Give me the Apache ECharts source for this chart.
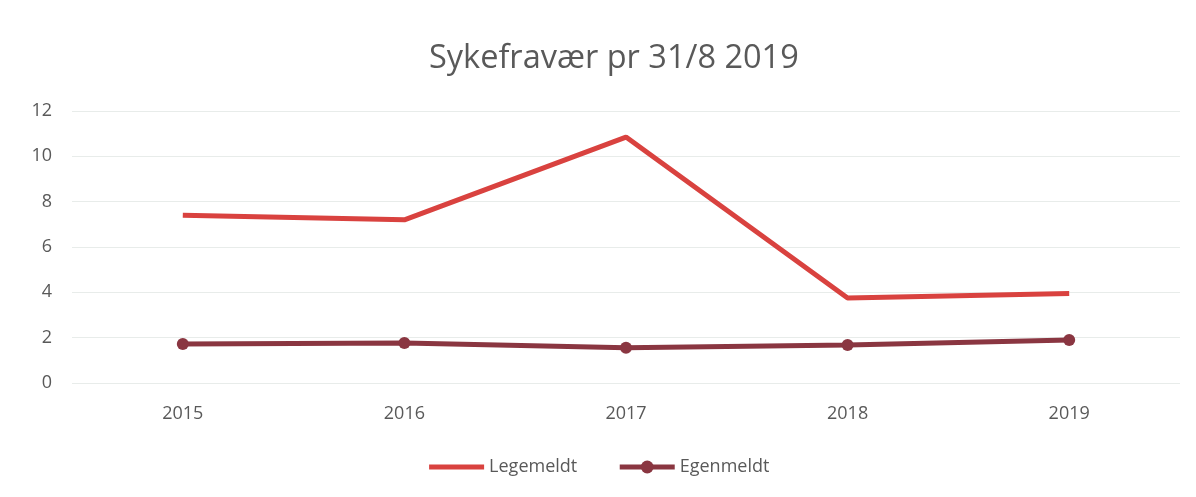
<!DOCTYPE html>
<html>
<head>
<meta charset="utf-8">
<script src="https://cdn.jsdelivr.net/npm/echarts@6/dist/echarts.min.js"></script>
<style>
  html, body { margin: 0; padding: 0; background: #fff; }
  #chart { width: 1196px; height: 497px; }
</style>
</head>
<body>
<div id="chart"></div>
<script>
// data
const years = ['2015', '2016', '2017', '2018', '2019']
const legemeldt = [7.4, 7.2, 10.85, 3.75, 3.95]
const egenmeldt = [1.72, 1.76, 1.55, 1.68, 1.9]

const chart = echarts.init(document.getElementById('chart'))
const textColor = '#595959'
const red = '#d9423f'
const dark = '#8a3641'

chart.setOption({
  backgroundColor: '#fff',
  title: {
    text: 'Sykefravær pr 31/8 2019',
    left: 424,
    top: 37,
    textStyle: { fontFamily: 'Open Sans', fontSize: 32.5, fontWeight: 'normal', color: textColor }
  },
  legend: {
    bottom: 16,
    left: 'center',
    itemWidth: 55,
    itemHeight: 16,
    itemGap: 40,
    lineStyle: { width: 5 },
    textStyle: { fontFamily: 'Open Sans', fontSize: 18, color: textColor },
    data: [
      { name: 'Legemeldt', itemStyle: { opacity: 0 } },
      { name: 'Egenmeldt' }
    ]
  },
  grid: { left: 72, right: 16, top: 111, bottom: 114, containLabel: false },
  xAxis: {
    type: 'category',
    data: years,
    boundaryGap: true,
    axisLine: { show: false },
    axisTick: { show: false },
    axisLabel: { fontFamily: 'Open Sans', fontSize: 18, color: textColor, margin: 22 }
  },
  yAxis: {
    type: 'value',
    min: 0,
    max: 12,
    interval: 2,
    axisLine: { show: false },
    axisTick: { show: false },
    axisLabel: { fontFamily: 'Open Sans', fontSize: 18, color: textColor, margin: 20 },
    splitLine: { lineStyle: { color: '#e8ecea', width: 1 } }
  },
  series: [
    {
      name: 'Legemeldt',
      type: 'line',
      data: legemeldt,
      symbol: 'none',
      lineStyle: { color: red, width: 5 },
      itemStyle: { color: red }
    },
    {
      name: 'Egenmeldt',
      type: 'line',
      data: egenmeldt,
      symbol: 'circle',
      symbolSize: 12,
      lineStyle: { color: dark, width: 5 },
      itemStyle: { color: dark }
    }
  ]
})
</script>
</body>
</html>
